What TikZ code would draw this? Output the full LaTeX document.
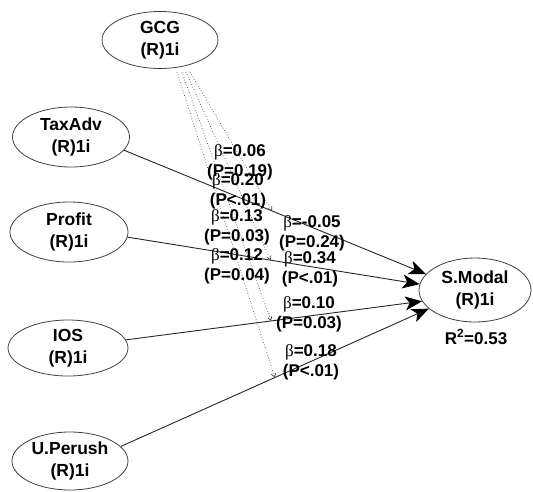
\documentclass[tikz,border=0pt]{standalone}
\usepackage{fontspec}
\setmainfont{Liberation Sans}
\newfontfamily\grk{Liberation Serif}
\usetikzlibrary{shapes.geometric,arrows.meta}
\newcommand\bet{{\grk\mdseries β}}
\tikzset{
 lv/.style={ellipse, draw=black!75, line width=0.8pt, minimum width=116pt, minimum height=60pt, inner sep=0pt, align=center, font=\fontsize{17.5}{22}\selectfont\bfseries},
 pathedge/.style={draw=black!85, line width=0.9pt, -{Stealth[length=17pt,width=14pt,inset=4.5pt,black]}},
 modedge/.style={draw=black!70, dotted, line width=0.7pt, -{Straight Barb[length=3.5pt,width=4.5pt]}},
 coef/.style={align=center, font=\fontsize{17}{20}\selectfont\bfseries, inner sep=0pt},
}
\begin{document}
\begin{tikzpicture}[x=1pt,y=-1pt]
\useasboundingbox (0,0) rectangle (533,491);
% latent variables
\node[lv, minimum height=57pt] (gcg) at (160,40) {GCG\\(R)1i};
\node[lv, minimum width=117pt] (tax) at (71,137) {TaxAdv\\(R)1i};
\node[lv, minimum width=118pt] (prof) at (69,232) {Profit\\(R)1i};
\node[lv, minimum width=120pt, minimum height=56pt] (ios) at (68,348) {IOS\\(R)1i};
\node[lv, minimum height=58pt] (up) at (70,461) {U.Perush\\(R)1i};
\node[lv, minimum width=112pt, minimum height=64pt] (sm) at (475,290) {S.Modal\\(R)1i};
\node[coef] (r2) at (476,337) {R\textsuperscript{2}=0.53};
% structural paths
\draw[pathedge] (tax.-14) -- coordinate[pos=0.49] (mtax) (sm.162);
\draw[pathedge] (prof.-5) -- coordinate[pos=0.49] (mprof) (sm.174);
\draw[pathedge] (ios.8) -- coordinate[pos=0.49] (mios) (sm.192);
\draw[pathedge] (up.16) -- coordinate[pos=0.5] (mup) (sm.202);
% moderating paths from GCG
\coordinate (g1) at (190,72);
\coordinate (g2) at (186,72);
\coordinate (g3) at (182,72);
\coordinate (g4) at (177,72);
\draw[modedge] (g1) -- (mtax);
\draw[modedge] (g2) -- (mprof);
\draw[modedge] (g3) -- (mios);
\draw[modedge] (g4) -- (mup);
% coefficients (interaction)
\node[coef] (c1) at (240,162) {\bet=0.06\\(P=0.19)};
\node[coef] (c2) at (238,191) {\bet=0.20\\(P<.01)};
\node[coef] (c3) at (237,227) {\bet=0.13\\(P=0.03)};
\node[coef] (c4) at (237,266) {\bet=0.12\\(P=0.04)};
% coefficients (direct)
\node[coef] (d1) at (312,233) {\bet=-0.05\\(P=0.24)};
\node[coef] (d2) at (310,269) {\bet=0.34\\(P<.01)};
\node[coef] (d3) at (309,314) {\bet=0.10\\(P=0.03)};
\node[coef] (d4) at (311,362) {\bet=0.18\\(P<.01)};
\end{tikzpicture}
\end{document}
